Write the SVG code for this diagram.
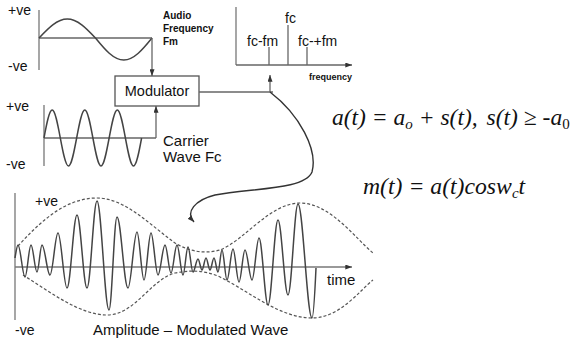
<svg xmlns="http://www.w3.org/2000/svg" width="579" height="344" viewBox="0 0 579 344">
<defs>
<marker id="arr" viewBox="0 0 8 6" refX="8" refY="3" markerWidth="7" markerHeight="5" markerUnits="userSpaceOnUse" orient="auto">
<path d="M0,0 L8,3 L0,6 z" fill="#333"/>
</marker>
<style>
.t{font-family:"Liberation Sans",Arial,sans-serif;fill:#111}
.b{font-weight:bold}
.eq{font-family:"Liberation Serif","Times New Roman",serif;font-style:italic;fill:#111}
.ax{stroke:#777;stroke-width:1.3;fill:none}
.wv{stroke:#444;stroke-width:1.5;fill:none}
.ln{stroke:#666;stroke-width:1.3;fill:none}
.env{stroke:#555;stroke-width:1.2;fill:none;stroke-dasharray:3 2}
</style>
</defs>
<rect width="579" height="344" fill="#fff"/>

<g id="audio-wave">
<line class="ax" x1="39" y1="10" x2="39" y2="70"/>
<line class="ln" x1="39" y1="38" x2="152" y2="38"/>
<path class="wv" d="M39,38 C48.2,28.3 57,19 67.3,19 C77.5,19 86.3,28.3 95.5,38 C104.7,49.3 113.5,60 123.8,60 C134,60 142.8,49.3 152,38"/>
<text class="t" x="8" y="15" font-size="14">+ve</text>
<text class="t" x="8" y="71" font-size="14">-ve</text>
<text class="t b" x="163" y="19" font-size="10">Audio</text>
<text class="t b" x="163" y="32" font-size="10">Frequency</text>
<text class="t b" x="163" y="45" font-size="10">Fm</text>
</g>

<g id="carrier-wave">
<line class="ax" x1="44" y1="105" x2="44" y2="166"/>
<line class="ln" x1="44" y1="138" x2="156" y2="138"/>
<path class="wv" d="M44,138 C46.6,123.7 49.2,110 52.2,110 C58,110 62.6,166 68.5,166 C74.3,166 79,110 84.8,110 C90.6,110 95.2,166 101,166 C106.8,166 111.5,110 117.3,110 C123.1,110 127.7,166 133.5,166 C136.4,166 139,152.3 141.6,138"/>
<text class="t" x="6" y="111" font-size="14">+ve</text>
<text class="t" x="6" y="169" font-size="14">-ve</text>
<text class="t" x="163" y="146" font-size="15">Carrier</text>
<text class="t" x="163" y="162" font-size="15">Wave Fc</text>
</g>

<g id="modulator">
<rect x="115" y="76" width="84" height="30" fill="#fff" stroke="#555" stroke-width="1.3"/>
<text class="t" x="157" y="96" font-size="14.5" text-anchor="middle">Modulator</text>
</g>

<g id="spectrum">
<line class="ax" x1="236" y1="7" x2="236" y2="65"/>
<line class="ln" x1="236" y1="65" x2="352" y2="65" marker-end="url(#arr)"/>
<line class="ln" x1="288" y1="65" x2="288" y2="25"/>
<line class="ln" x1="269" y1="65" x2="269" y2="47"/>
<line class="ln" x1="307" y1="65" x2="307" y2="47"/>
<text class="t" x="285" y="23" font-size="14">fc</text>
<text class="t" x="247" y="46" font-size="14">fc-fm</text>
<text class="t" x="298" y="46" font-size="14">fc-+fm</text>
<text class="t b" x="309" y="80" font-size="9">frequency</text>
</g>

<g id="am-wave">
<line class="ax" x1="15" y1="193" x2="15" y2="320"/>
<line class="ax" x1="15" y1="267" x2="352" y2="267" marker-end="url(#arr)"/>
<path class="env" d="M18,246 C40,222 65,198 97,198 C125,198 150,225 175,243 C190,252 205,254 220,250 C245,240 270,203 300,203 C330,203 355,238 373,253"/>
<path class="env" d="M23,275 C50,292 80,315 107,315 C135,315 150,280 175,273 C190,270 205,270 220,277 C250,292 280,318 312,318 C340,318 360,290 373,280"/>
<path class="wv" d="M15,258 C16,252 17,245 18,245 C20.5,245 22.5,277 25,277 C27.2,277 28.8,245 31,245 C33.2,245 34.8,272 37,272 C38.8,272 40.2,245 42,245 C44.9,245 47.1,275 50,275 C52.9,275 55.1,233 58,233 C61.2,233 63.8,288 67,288 C70.6,288 73.4,215 77,215 C80.6,215 83.4,288 87,288 C90.6,288 93.4,201 97,201 C101.3,201 104.7,310 109,310 C111.9,310 114.1,217 117,217 C121,217 124,288 128,288 C131.2,288 133.8,232 137,232 C139.5,232 141.5,280 144,280 C146.5,280 148.5,233 151,233 C153.5,233 155.5,275 158,275 C160.5,275 162.5,245 165,245 C167.2,245 168.8,273 171,273 C173.2,273 174.8,245 177,245 C179.2,245 180.8,275 183,275 C184.8,275 186.2,247 188,247 C189.8,247 191.2,272 193,272 C194.8,272 196.2,259 198,259 C199.4,259 200.6,270 202,270 C203.4,270 204.6,258 206,258 C207.4,258 208.6,270 210,270 C211.4,270 212.6,258 214,258 C215.4,258 216.6,272 218,272 C219.4,272 220.6,250 222,250 C223.8,250 225.2,280 227,280 C229.2,280 230.8,249 233,249 C235.2,249 236.8,282 239,282 C241.2,282 242.8,250 245,250 C247.5,250 249.5,280 252,280 C254.5,280 256.5,238 259,238 C262.2,238 264.8,305 268,305 C271.6,305 274.4,220 278,220 C281.6,220 284.4,295 288,295 C291.6,295 294.4,204 298,204 C303,204 307,318 312,318 C313.5,318 315,290 316,268"/>
<text class="t" x="35" y="206" font-size="14">+ve</text>
<text class="t" x="15" y="335" font-size="14">-ve</text>
<text class="t" x="327" y="285" font-size="15">time</text>
<text class="t" x="93" y="335" font-size="15">Amplitude – Modulated Wave</text>
</g>

<g id="equations">
<text class="eq" x="332" y="125" font-size="23.5">a(t) = a<tspan font-size="15" dy="4">o</tspan><tspan dy="-4"> + s(t),</tspan><tspan dx="9">s(t) ≥ -a</tspan><tspan font-size="15" dy="4" font-style="normal">0</tspan></text>
<text class="eq" x="363" y="194" font-size="23.7">m(t) = a(t)cosw<tspan font-size="15" dy="4">c</tspan><tspan dy="-4">t</tspan></text>
</g>

<g id="connectors">
<line class="ln" x1="152" y1="38" x2="152" y2="76" marker-end="url(#arr)"/>
<line class="ln" x1="156" y1="138" x2="156" y2="106" marker-end="url(#arr)"/>
<line class="ln" x1="199" y1="92" x2="273" y2="92"/>
<line class="ln" x1="270" y1="92" x2="270" y2="75" marker-end="url(#arr)"/>
<path d="M270,92 C300,115 318,150 312,172 C305,190 250,188 215,195 C195,200 185,212 194,222" fill="none" stroke="#333" stroke-width="1.4" marker-end="url(#arr)"/>
</g>
</svg>
